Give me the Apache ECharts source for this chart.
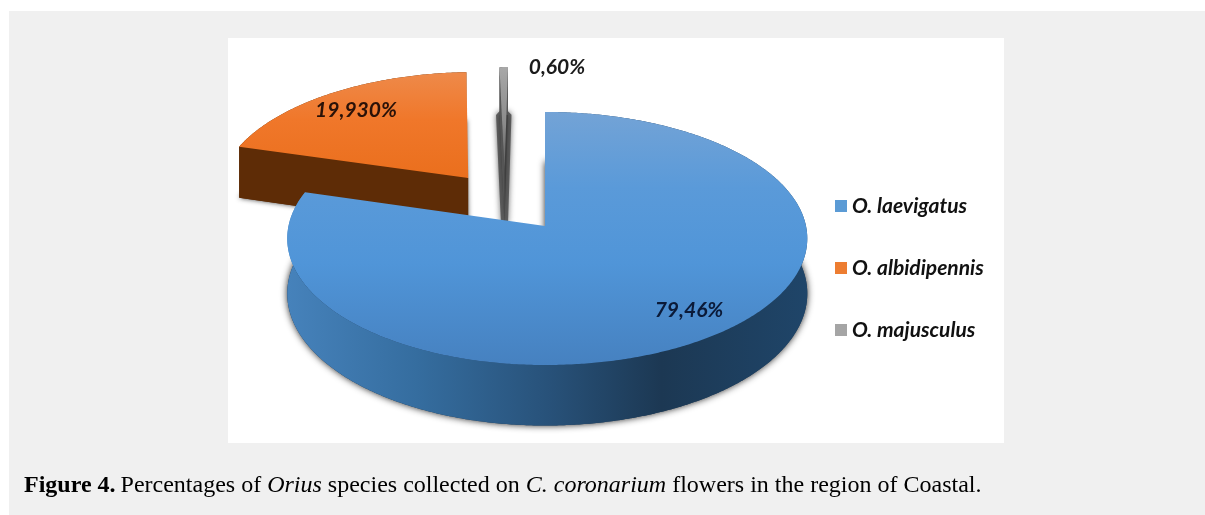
<!DOCTYPE html>
<html>
<head>
<meta charset="utf-8">
<style>html,body{margin:0;padding:0;background:#fff}#chart{width:1205px;height:515px}</style>
<script src="https://cdn.jsdelivr.net/npm/echarts@6/dist/echarts.min.js"></script>
</head>
<body>
<div id="chart"></div>
<script>
// Species shares, in percent, with their printed labels
const species = ['O. laevigatus', 'O. albidipennis', 'O. majusculus'];
const shares = [79.46, 19.93, 0.60];
const shareLabels = ['79,46%', '19,930%', '0,60%'];

// Perspective model of the tilted disc
const apex = [545, 226], radiusLeft = 256.5, radiusRight = 261, radiusY = 125.3, tilt = -0.0988, depth = 54.5;
// Per-slice pull-out in disc units (u right, v towards the viewer)
const pullOut = [[0, 0], [-0.311, -0.398], [-0.165, -0.45]];

const total = shares.reduce((a, b) => a + b, 0);

function project(u, v, lowered) {
  const d = 1 + tilt * v;
  const rx = u < 0 ? radiusLeft : radiusRight;
  return [apex[0] + rx * u / d, apex[1] + (radiusY * v + (lowered ? depth : 0)) / d];
}
function sliceAngles(i) {
  const before = shares.slice(0, i).reduce((a, b) => a + b, 0);
  return [before / total * 360, (before + shares[i]) / total * 360];
}
function arcPoints(i, from, to, lowered) {
  const pts = [], off = pullOut[i], n = Math.max(2, Math.ceil(Math.abs(to - from) * 2));
  for (let k = 0; k <= n; k++) {
    const a = (from + (to - from) * k / n) * Math.PI / 180;
    pts.push(project(off[0] + Math.sin(a), off[1] - Math.cos(a), lowered));
  }
  return pts;
}
const vertical = (stops) => ({ type: 'linear', x: 0, y: 0, x2: 0, y2: 1,
  colorStops: stops.map(s => ({ offset: s[0], color: s[1] })) });
const horizontal = (stops) => ({ type: 'linear', x: 0, y: 0, x2: 1, y2: 0,
  colorStops: stops.map(s => ({ offset: s[0], color: s[1] })) });

const sliceStyles = [
  {
    top: vertical([[0, '#73a3d6'], [0.3, '#5a9ad9'], [0.6, '#5095d8'], [1, '#4681c0']]),
    wall: horizontal([[0, '#4682bb'], [0.25, '#356d9f'], [0.5, '#28527a'], [0.72, '#1c3853'], [1, '#1f4569']]),
    under: { fill: '#1d3a57', shadowBlur: 7, shadowColor: 'rgba(0,0,0,0.85)' },
    labelAt: [689, 310]
  },
  {
    top: vertical([[0, '#ee8a4a'], [0.45, '#f0772a'], [1, '#ea6f1d']]),
    wall: '#5e2c06',
    under: { fill: '#5e2c06', shadowBlur: 5, shadowColor: 'rgba(0,0,0,0.75)' },
    labelAt: [356, 110]
  },
  {
    top: vertical([[0, '#a8a8a8'], [0.55, '#8a8a8a'], [1, '#5a5a5a']]),
    wall: '#555555',
    under: { fill: '#444444', stroke: 'rgba(70,70,70,0.8)', lineWidth: 7, lineJoin: 'bevel',
      shadowBlur: 6, shadowColor: 'rgba(0,0,0,0.6)' },
    labelAt: [557, 67]
  }
];

function renderSlice(i) {
  return function () {
    const [a0, a1] = sliceAngles(i);
    const st = sliceStyles[i];
    const centreTop = project(pullOut[i][0], pullOut[i][1], false);
    const centreLow = project(pullOut[i][0], pullOut[i][1], true);
    const arcTop = arcPoints(i, a0, a1, false);
    const arcLow = arcPoints(i, a0, a1, true);
    const children = [
      { type: 'polygon', shape: { points: [centreLow].concat(arcLow) }, style: st.under },
      { type: 'polygon', shape: { points: arcTop.concat(arcLow.slice().reverse()) },
        style: { fill: st.wall } }
    ];
    // Radial side walls show on the exploded slices
    if (i > 0) {
      children.push({ type: 'polygon',
        shape: { points: [arcTop[0], centreTop, centreLow, arcLow[0]] },
        style: { fill: st.wall } });
    }
    children.push({ type: 'polygon', shape: { points: [centreTop].concat(arcTop) },
      style: { fill: st.top } });
    children.push({ type: 'text', x: st.labelAt[0], y: st.labelAt[1],
      style: { text: shareLabels[i], align: 'center', verticalAlign: 'middle',
        fontFamily: 'Lato', fontWeight: 'bold', fontStyle: 'italic', fontSize: 21,
        fill: i === 0 ? '#0b1a38' : (i === 1 ? '#2a1208' : '#1a1a1a') } });
    return { type: 'group', children };
  };
}

const legendColors = ['#5b9bd5', '#ed7d31', '#a5a5a5'];
// Front slice last so it overlaps the pulled-out ones
const drawOrder = [2, 1, 0];

const chart = echarts.init(document.getElementById('chart'), null, { renderer: 'canvas' });
chart.setOption({
  animation: false,
  backgroundColor: '#ffffff',
  graphic: { elements: [
    { type: 'rect', z: -10, shape: { x: 9, y: 11, width: 1196, height: 504 }, style: { fill: '#f0f0f0' } },
    { type: 'rect', z: -9, shape: { x: 228, y: 38, width: 776, height: 405 }, style: { fill: '#ffffff' } }
  ] },
  title: {
    left: 19, top: 469,
    text: '{b|Figure 4.} {n|Percentages of }{i|Orius}{n| species collected on }{i|C. coronarium}{n| flowers in the region of Coastal.}',
    textStyle: { rich: {
      b: { fontFamily: 'Liberation Serif', fontSize: 24, fontWeight: 'bold', color: '#000' },
      n: { fontFamily: 'Liberation Serif', fontSize: 24, fontWeight: 'normal', color: '#000' },
      i: { fontFamily: 'Liberation Serif', fontSize: 24, fontWeight: 'normal', fontStyle: 'italic', color: '#000' }
    } }
  },
  legend: {
    orient: 'vertical', left: 830, top: 190.5, itemGap: 41,
    itemWidth: 12, itemHeight: 12, icon: 'rect',
    data: species,
    textStyle: { fontFamily: 'Lato', fontWeight: 'bold', fontStyle: 'italic', fontSize: 21, color: '#111' }
  },
  series: drawOrder.map(i => ({
    type: 'custom', name: species[i], coordinateSystem: 'none',
    itemStyle: { color: legendColors[i] },
    data: [[shares[i]]],
    renderItem: renderSlice(i)
  }))
});
</script>
</body>
</html>
